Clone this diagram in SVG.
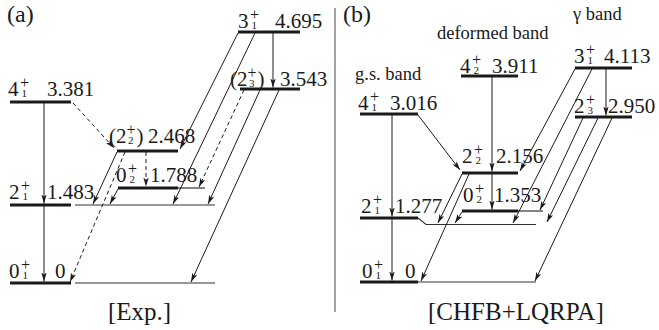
<svg xmlns="http://www.w3.org/2000/svg" width="659" height="330" viewBox="0 0 659 330">
<style>
text{font-family:"Liberation Serif","Times New Roman",serif;fill:#1a1a1a}
.t{font-size:21px}
.sp{font-size:16px}
.sb{font-size:11px}
.cap{font-size:25px}
.bl{font-size:18.5px}
.lv{stroke:#1a1a1a;stroke-width:3;fill:none}
.th{stroke:#333;stroke-width:1.2;fill:none}
.c{stroke:#1a1a1a;stroke-width:1;fill:none;marker-end:url(#ah)}
.d{stroke-dasharray:4 3}
.div{stroke:#666;stroke-width:1.2}
</style>
<defs>
<marker id="ah" viewBox="0 0 10 6" refX="10" refY="3" markerWidth="9" markerHeight="5.5" markerUnits="userSpaceOnUse" orient="auto"><path d="M0,0 L10,3 L0,6 L2.5,3 z" fill="#1a1a1a"/></marker>
</defs>
<rect width="659" height="330" fill="#fff"/>

<!-- Panel (a) -->
<text class="cap" x="7" y="22" style="font-size:24px">(a)</text>
<text class="cap" x="108" y="320">[Exp.]</text>

<g id="a-4_1">
<line class="lv" x1="10" y1="102" x2="71" y2="102"/>
<text class="t" x="8" y="96">4<tspan class="sp" dx="1.5" dy="-8">+</tspan><tspan class="sb" dx="-7.5" dy="9">1</tspan></text>
<text class="t" x="47" y="96">3.381</text>
</g>
<g id="a-2_1">
<line class="lv" x1="10" y1="205" x2="71" y2="205"/>
<line class="th" x1="75" y1="205" x2="215" y2="205"/>
<text class="t" x="9" y="199">2<tspan class="sp" dx="1.5" dy="-8">+</tspan><tspan class="sb" dx="-7.5" dy="9">1</tspan></text>
<text class="t" x="47" y="199">1.483</text>
</g>
<g id="a-0_1">
<line class="lv" x1="10" y1="283" x2="71" y2="283"/>
<line class="th" x1="75" y1="283" x2="215" y2="283"/>
<text class="t" x="9" y="278">0<tspan class="sp" dx="1.5" dy="-8">+</tspan><tspan class="sb" dx="-7.5" dy="9">1</tspan></text>
<text class="t" x="55" y="278">0</text>
</g>
<g id="a-2_2">
<line class="lv" x1="117" y1="151" x2="178" y2="151"/>
<text class="t" x="109" y="143">(2<tspan class="sp" dy="-8">+</tspan><tspan class="sb" dx="-7.5" dy="9">2</tspan><tspan dx="3" dy="-1">)</tspan></text>
<text class="t" x="148" y="143">2.468</text>
</g>
<g id="a-0_2">
<line class="lv" x1="118" y1="188" x2="178" y2="188"/>
<line class="th" x1="178" y1="188" x2="205" y2="188"/>
<text class="t" x="116" y="182">0<tspan class="sp" dx="1.5" dy="-8">+</tspan><tspan class="sb" dx="-7.5" dy="9">2</tspan></text>
<text class="t" x="150" y="182">1.788</text>
</g>
<g id="a-3_1">
<line class="lv" x1="238" y1="32" x2="300" y2="32"/>
<text class="t" x="238" y="28">3<tspan class="sp" dx="1.5" dy="-8">+</tspan><tspan class="sb" dx="-7.5" dy="9">1</tspan></text>
<text class="t" x="275" y="28">4.695</text>
</g>
<g id="a-2_3">
<line class="lv" x1="240" y1="89" x2="300" y2="89"/>
<text class="t" x="230" y="86">(2<tspan class="sp" dy="-8">+</tspan><tspan class="sb" dx="-7.5" dy="9">3</tspan><tspan dx="3" dy="-1">)</tspan></text>
<text class="t" x="280" y="86">3.543</text>
</g>

<g id="connectors-a">
<line class="c" x1="44" y1="102" x2="44" y2="203.5"/>
<line class="c" x1="44" y1="205" x2="44" y2="281.5"/>
<line class="c d" x1="73" y1="103" x2="114" y2="148"/>
<line class="c" x1="238" y1="33" x2="180" y2="149"/>
<line class="c" x1="255" y1="33" x2="173" y2="204"/>
<line class="c" x1="273" y1="33" x2="273" y2="87.5"/>
<line class="c" x1="117" y1="152" x2="93" y2="204"/>
<line class="c d" x1="125" y1="152" x2="70" y2="282"/>
<line class="c d" x1="146" y1="152" x2="146" y2="186.5"/>
<line class="c" x1="118" y1="189" x2="110" y2="204"/>
<line class="c d" x1="244" y1="90" x2="199" y2="187"/>
<line class="c" x1="260" y1="90" x2="208" y2="204"/>
<line class="c" x1="279" y1="90" x2="191" y2="282"/>
</g>

<!-- divider -->
<line class="div" x1="335" y1="8" x2="335" y2="312"/>

<!-- Panel (b) -->
<text class="cap" x="343" y="22" style="font-size:24px">(b)</text>
<text class="cap" x="428" y="320">[CHFB+LQRPA]</text>
<text class="bl" x="355" y="80">g.s. band</text>
<text class="bl" x="437" y="39">deformed band</text>
<text class="bl" x="573" y="20">γ band</text>

<g id="b-4_1">
<line class="lv" x1="360" y1="114" x2="418" y2="114"/>
<text class="t" x="358" y="110">4<tspan class="sp" dx="1.5" dy="-8">+</tspan><tspan class="sb" dx="-7.5" dy="9">1</tspan></text>
<text class="t" x="390" y="110">3.016</text>
</g>
<g id="b-2_1">
<line class="lv" x1="360" y1="218" x2="418" y2="218"/>
<polyline class="th" points="418,218 426,224.5 536,224.5"/>
<text class="t" x="361" y="213">2<tspan class="sp" dx="1.5" dy="-8">+</tspan><tspan class="sb" dx="-7.5" dy="9">1</tspan></text>
<text class="t" x="395" y="213">1.277</text>
</g>
<g id="b-0_1">
<line class="lv" x1="360" y1="282" x2="418" y2="282"/>
<line class="th" x1="418" y1="282" x2="536" y2="282"/>
<text class="t" x="362" y="278">0<tspan class="sp" dx="1.5" dy="-8">+</tspan><tspan class="sb" dx="-7.5" dy="9">1</tspan></text>
<text class="t" x="405" y="278">0</text>
</g>
<g id="b-4_2">
<line class="lv" x1="461" y1="76" x2="518" y2="76"/>
<text class="t" x="460" y="73">4<tspan class="sp" dx="1.5" dy="-8">+</tspan><tspan class="sb" dx="-7.5" dy="9">2</tspan></text>
<text class="t" x="492" y="73">3.911</text>
</g>
<g id="b-2_2">
<line class="lv" x1="462" y1="173" x2="518" y2="173"/>
<text class="t" x="462" y="163">2<tspan class="sp" dx="1.5" dy="-8">+</tspan><tspan class="sb" dx="-7.5" dy="9">2</tspan></text>
<text class="t" x="496" y="163">2.156</text>
</g>
<g id="b-0_2">
<line class="lv" x1="462" y1="211" x2="518" y2="211"/>
<line class="th" x1="518" y1="211" x2="543" y2="211"/>
<text class="t" x="463" y="202">0<tspan class="sp" dx="1.5" dy="-8">+</tspan><tspan class="sb" dx="-7.5" dy="9">2</tspan></text>
<text class="t" x="494" y="202">1.353</text>
</g>
<g id="b-3_1">
<line class="lv" x1="575" y1="68" x2="632" y2="68"/>
<text class="t" x="574" y="63">3<tspan class="sp" dx="1.5" dy="-8">+</tspan><tspan class="sb" dx="-7.5" dy="9">1</tspan></text>
<text class="t" x="604" y="63">4.113</text>
</g>
<g id="b-2_3">
<line class="lv" x1="575" y1="117" x2="632" y2="117"/>
<text class="t" x="574" y="113">2<tspan class="sp" dx="1.5" dy="-8">+</tspan><tspan class="sb" dx="-7.5" dy="9">3</tspan></text>
<text class="t" x="608" y="113">2.950</text>
</g>

<g id="connectors-b">
<line class="c" x1="392" y1="115" x2="392" y2="216.5"/>
<line class="c" x1="392" y1="219" x2="392" y2="280.5"/>
<line class="c" x1="418" y1="115" x2="460" y2="170"/>
<line class="c" x1="492" y1="77" x2="492" y2="171.5"/>
<line class="c" x1="492" y1="174" x2="492" y2="209.5"/>
<line class="c" x1="575" y1="69" x2="520" y2="171"/>
<line class="c" x1="592" y1="69" x2="513" y2="223"/>
<line class="c" x1="606" y1="69" x2="606" y2="115.5"/>
<line class="c" x1="462" y1="174" x2="438" y2="223"/>
<line class="c" x1="469" y1="174" x2="421" y2="281"/>
<line class="c" x1="462" y1="212" x2="455" y2="223"/>
<line class="c" x1="583" y1="118" x2="540" y2="210"/>
<line class="c" x1="598" y1="118" x2="547" y2="222"/>
<line class="c" x1="612" y1="118" x2="535" y2="281"/>
</g>
</svg>
